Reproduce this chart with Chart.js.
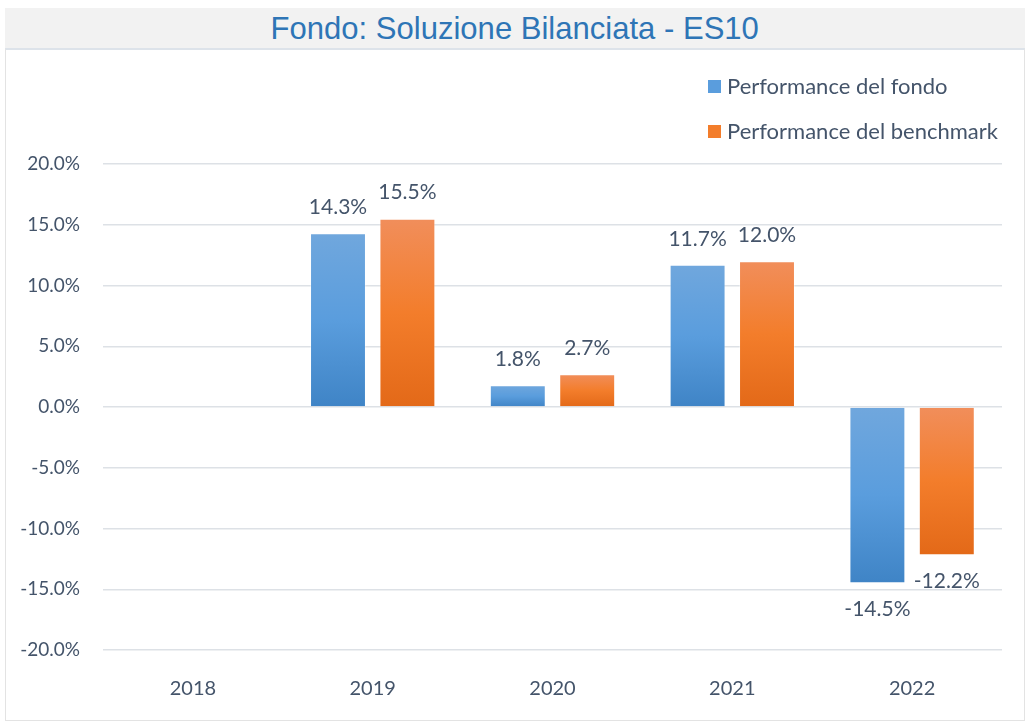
<!DOCTYPE html>
<html>
<head>
<meta charset="UTF-8">
<title>Fondo: Soluzione Bilanciata - ES10</title>
<script src="https://cdn.jsdelivr.net/npm/chart.js"></script>
<style>
    body { margin: 0; background: #fff; font-family: Lato, "Open Sans", sans-serif; }
    .title-band {
        position: absolute; left: 5px; top: 8px; width: 1020px; height: 40px;
        background: #f2f2f2; color: #2e75b6; text-align: center;
        font-family: "Liberation Sans Narrow", "Liberation Sans", sans-serif;
        font-size: 32px; line-height: 40px;
    }
    .title-band span { display: inline-block; transform: scaleX(0.97); }
    .chart-box {
        position: absolute; left: 5px; top: 48px; width: 1018px; height: 670px;
        border: 1px solid #e3e3e3; border-top: 2px solid #dde3ea;
    }
    #legend { position: absolute; left: 708px; top: 72px; color: #44546a; font-size: 22px; }
    #legend div { height: 45px; display: flex; align-items: flex-start; }
    #legend span.box { width: 13px; height: 13px; margin: 8px 6px 0 0; }
</style>
</head>
<body>
<div class="title-band"><span>Fondo: Soluzione Bilanciata - ES10</span></div>
<div class="chart-box"><canvas id="chart" width="1018" height="670"></canvas></div>
<div id="legend"></div>
<script>
const years = ['2018', '2019', '2020', '2021', '2022'];
const fondo = [null, 14.3, 1.8, 11.7, -14.5];
const benchmark = [null, 15.5, 2.7, 12.0, -12.2];
const yTicks = [-20, -15, -10, -5, 0, 5, 10, 15, 20];

const blueStops = ['#70a7dd', '#5a9ddd', '#3f84c6'];
const orangeStops = ['#f18e5b', '#f37d2b', '#e36918'];

function barGradient(stops) {
    return function (ctx) {
        const chart = ctx.chart;
        if (!chart.chartArea || ctx.raw == null) return stops[1];
        const y = chart.scales.y;
        const a = y.getPixelForValue(0), b = y.getPixelForValue(ctx.raw);
        const top = Math.min(a, b), bot = Math.max(a, b);
        if (bot - top < 1) return stops[1];
        const g = chart.ctx.createLinearGradient(0, top, 0, bot);
        g.addColorStop(0, stops[0]);
        g.addColorStop(0.5, stops[1]);
        g.addColorStop(1, stops[2]);
        return g;
    };
}

const valueLabels = {
    id: 'valueLabels',
    afterDatasetsDraw(chart) {
        const c = chart.ctx;
        c.save();
        c.font = '21px Lato, "Open Sans", sans-serif';
        c.fillStyle = '#44546a';
        c.textAlign = 'center';
        c.textBaseline = 'middle';
        chart.data.datasets.forEach((ds, i) => {
            chart.getDatasetMeta(i).data.forEach((bar, j) => {
                const v = ds.data[j];
                if (v == null) return;
                const off = v >= 0 ? -26 : 26;
                c.fillText(v.toFixed(1) + '%', bar.x, bar.y + off);
            });
        });
        c.restore();
    }
};

const chart = new Chart(document.getElementById('chart'), {
    type: 'bar',
    data: {
        labels: years,
        datasets: [
            { label: 'Performance del fondo', data: fondo, backgroundColor: barGradient(blueStops),
              borderColor: 'rgba(255,255,255,0.35)', borderWidth: 1, legendColor: blueStops[1] },
            { label: 'Performance del benchmark', data: benchmark, backgroundColor: barGradient(orangeStops),
              borderColor: 'rgba(255,255,255,0.35)', borderWidth: 1, legendColor: orangeStops[1] }
        ]
    },
    options: {
        responsive: false,
        animation: false,
        layout: { padding: { top: 114, right: 22, left: 0, bottom: 0 } },
        datasets: { bar: { categoryPercentage: 0.772, barPercentage: 0.806 } },
        plugins: { legend: { display: false }, tooltip: { enabled: false } },
        scales: {
            x: {
                grid: { display: false },
                border: { display: false },
                ticks: { color: '#44546a', font: { size: 20, family: 'Lato' }, padding: 19 },
                afterFit(s) { s.height = 70; }
            },
            y: {
                min: -20, max: 20,
                afterBuildTicks(s) { s.ticks = yTicks.map(v => ({ value: v })); },
                grid: { color: '#dde1e6', lineWidth: 1.5, drawTicks: false },
                border: { display: false },
                ticks: {
                    color: '#44546a', font: { size: 19, family: 'Lato' }, padding: 23,
                    callback: v => v.toFixed(1) + '%'
                },
                afterFit(s) { s.width = 97; }
            }
        }
    },
    plugins: [valueLabels]
});

const legend = document.getElementById('legend');
chart.data.datasets.forEach(ds => {
    const row = document.createElement('div');
    row.innerHTML = '<span class="box" style="background:' + ds.legendColor + '"></span>' + ds.label;
    legend.appendChild(row);
});
</script>
</body>
</html>
